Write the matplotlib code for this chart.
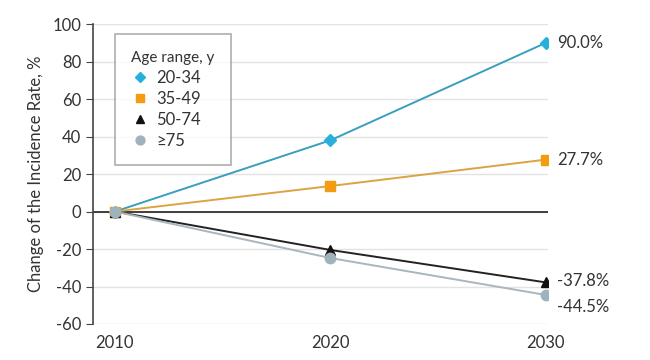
import matplotlib
matplotlib.use("Agg")
import matplotlib.pyplot as plt

plt.rcParams['font.family'] = ['Lato', 'DejaVu Sans']
plt.rcParams['axes.unicode_minus'] = False

years = [2010, 2020, 2030]
groups = ["20-34", "35-49", "50-74", "\u226575"]
change_20_34 = [0, 38, 90.0]
change_35_49 = [0, 13.6, 27.7]
change_50_74 = [0, -20.5, -37.8]
change_75 = [0, -24.8, -44.5]
end_labels = ["90.0%", "27.7%", "-37.8%", "-44.5%"]

series = [change_20_34, change_35_49, change_50_74, change_75]
markers = ["D", "s", "^", "o"]
marker_colors = ["#27b0dc", "#f39c12", "#111111", "#9fb3bc"]
line_colors = ["#3a9fbf", "#d9a441", "#222222", "#a9b6bd"]
marker_sizes = [6.5, 7.5, 7.5, 7.5]
label_offsets = [0, 0, 1, -9]

fig = plt.figure(figsize=(6.5, 3.6), dpi=100)
ax = fig.add_axes([0.143, 0.10, 0.700, 0.833])

for i, vals in enumerate(series):
    ax.plot(years, vals, color=line_colors[i], lw=1.4, zorder=3)
    ax.plot(years, vals, linestyle="none", marker=markers[i], ms=marker_sizes[i],
            mfc=marker_colors[i], mec=marker_colors[i], zorder=4, label=groups[i])
    ax.annotate(end_labels[i], (years[-1], vals[-1]), xytext=(8, label_offsets[i]),
                textcoords="offset points", va="center", ha="left",
                fontsize=12, color="#333333")

ax.axhline(0, color="#222222", lw=1.2, zorder=2)
ax.set_xlim(2008.98, 2030.1)
ax.set_ylim(-60, 100)
ax.set_yticks(range(-60, 101, 20))
ax.set_xticks(years)
ax.yaxis.grid(True, color="#e3e3e3", lw=1)
ax.set_axisbelow(True)

for s in ["top", "right", "bottom"]:
    ax.spines[s].set_visible(False)
ax.spines["left"].set_color("#444444")
ax.spines["left"].set_linewidth(1.2)
ax.tick_params(axis="y", length=5, color="#444444", labelsize=12, labelcolor="#333333")
ax.tick_params(axis="x", length=0, labelsize=12, labelcolor="#333333", pad=8)
ax.set_ylabel("Change of the Incidence Rate, %", fontsize=12, color="#333333", labelpad=6)

leg = ax.legend(title="Age range, y", loc="upper left", bbox_to_anchor=(0.048, 0.967),
                frameon=True, fancybox=False, fontsize=12, title_fontsize=11,
                handletextpad=0.5, labelspacing=0.3, borderpad=1.0, handlelength=1.0,
                markerscale=0.85, borderaxespad=0)
leg.get_frame().set_edgecolor("#999999")
leg.get_frame().set_linewidth(1.2)
leg._legend_box.align = "left"
for t in leg.get_texts():
    t.set_color("#333333")
leg.get_title().set_color("#333333")

fig.savefig("out.png", dpi=100)
